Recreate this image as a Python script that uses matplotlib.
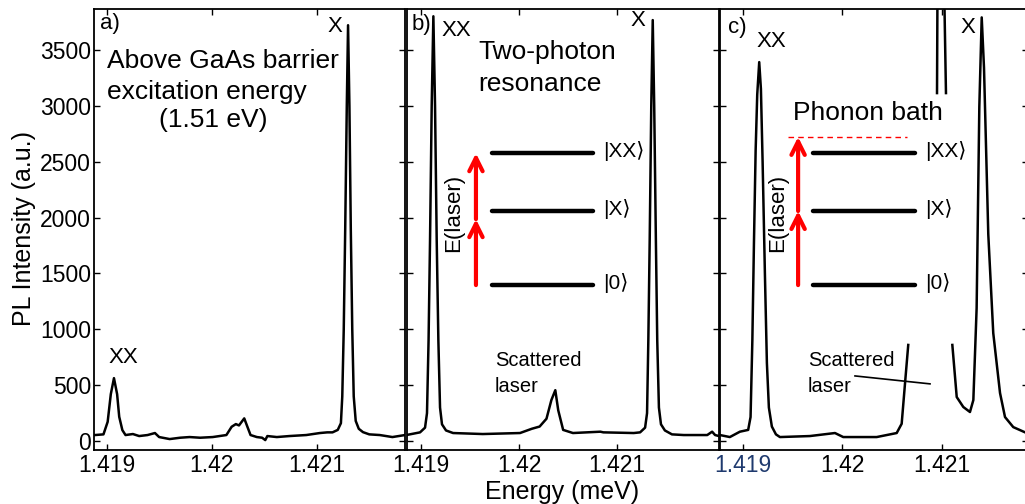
import numpy as np
import matplotlib
matplotlib.use("Agg")
import matplotlib.pyplot as plt

plt.rcParams['font.family'] = ['Liberation Sans', 'DejaVu Sans']

# PL spectra (energy in meV as labelled, intensity a.u.)
energy_a = [1.41889, 1.41897, 1.41901, 1.41904, 1.41907, 1.41910, 1.41912, 1.41915,
            1.41918, 1.41925, 1.41931, 1.41939, 1.41946, 1.41950, 1.41960, 1.41970,
            1.41979, 1.41989, 1.42001, 1.42014, 1.42019, 1.42023, 1.42026, 1.42031,
            1.42034, 1.42037, 1.42043, 1.42048, 1.42051, 1.42053, 1.42062, 1.42074,
            1.42090, 1.42103, 1.42110, 1.42115, 1.42120, 1.42123, 1.421243, 1.421257,
            1.421271, 1.421286, 1.421298, 1.421311, 1.421324, 1.421338, 1.421352, 1.421371,
            1.42140, 1.42144, 1.42150, 1.42160, 1.42172, 1.42184]
pl_a = [54, 60, 172, 420, 563, 420, 217, 98,
        54, 63, 45, 54, 72, 36, 18, 30,
        36, 30, 36, 54, 128, 152, 140, 203,
        128, 54, 36, 30, 9, 45, 36, 45,
        54, 72, 78, 78, 100, 160, 400, 1000,
        1900, 3000, 3720, 3000, 1900, 1000, 400, 180,
        110, 80, 60, 54, 36, 54]

energy_b = [1.41885, 1.418990, 1.419041, 1.419061, 1.419077, 1.419092, 1.419109, 1.419126,
            1.419143, 1.419160, 1.419177, 1.419194, 1.419214, 1.419255, 1.419327, 1.41963,
            1.42001, 1.42013, 1.42021, 1.42028, 1.42033, 1.42037, 1.42040, 1.42045,
            1.42055, 1.42083, 1.42086, 1.42117, 1.421235, 1.421286, 1.421306, 1.421319,
            1.421333, 1.421349, 1.421364, 1.421379, 1.421396, 1.421410, 1.421427, 1.421448,
            1.421488, 1.421560, 1.42168, 1.42192, 1.42197, 1.42200, 1.42204]
pl_b = [54, 78, 120, 250, 900, 1800, 3000, 3800,
        3000, 1800, 900, 300, 150, 95, 72, 63,
        72, 110, 130, 200, 367, 455, 275, 100,
        72, 84, 78, 72, 78, 120, 250, 900,
        1800, 3000, 3766, 3000, 1800, 900, 300, 150,
        95, 60, 54, 54, 84, 54, 45]

# laser line in c) runs off scale and is cut out of the panel (nan = gap)
energy_c = [1.418769, 1.418869, 1.418970, 1.419053, 1.419077, 1.419095, 1.419111, 1.419128,
            1.419144, 1.419164, 1.419181, 1.419198, 1.419221, 1.419241, 1.419261, 1.419291,
            1.419332, 1.419372, 1.419673, 1.419925, 1.420008, 1.420344, 1.420545, 1.420595,
            1.420628, 1.420661, 1.420800,
            1.420950, 1.420957, 1.421013, 1.421040, 1.421070,
            1.421104, 1.421148, 1.421214, 1.421281, 1.421315, 1.421348, 1.421375, 1.421399,
            1.421422, 1.421465, 1.421515, 1.421583, 1.421633, 1.421716, 1.421850]
pl_c = [54, 36, 84, 100, 215, 900, 1770, 2600,
        3100, 3390, 3150, 2500, 1500, 700, 300, 130,
        60, 36, 45, 72, 36, 36, 72, 155,
        510, 860, np.nan,
        3113, 4500, 4500, 3113, np.nan,
        860, 394, 305, 260, 367, 1190, 2990, 3790,
        3340, 1850, 966, 430, 215, 125, 72]

xticks = [1.419, 1.420, 1.421]
xtick_labels = ['1.419', '1.42', '1.421']
yticks = [0, 500, 1000, 1500, 2000, 2500, 3000, 3500]
ylim = (-80, 3865)

fig = plt.figure(figsize=(10.25, 5.04), dpi=100)
ax_a = fig.add_axes([94/1025, 0.1071, 311/1025, 0.875])
ax_b = fig.add_axes([407/1025, 0.1071, 312/1025, 0.875])
ax_c = fig.add_axes([720/1025, 0.1071, 0.30, 0.875])

panels = [(ax_a, energy_a, pl_a, (1.41888, 1.42184)),
          (ax_b, energy_b, pl_b, (1.418857, 1.42204)),
          (ax_c, energy_c, pl_c, (1.41877, 1.421859))]

for ax, e, p, xl in panels:
    ax.plot(e, p, color='black', lw=1.8, solid_joinstyle='round')
    ax.set_xlim(*xl)
    ax.set_ylim(*ylim)
    ax.set_xticks(xticks)
    ax.set_xticklabels(xtick_labels)
    ax.set_yticks(yticks)
    ax.tick_params(direction='in', top=True, right=True, length=4, width=1,
                   labelsize=16.5, pad=3)
    for s in ax.spines.values():
        s.set_linewidth(1.3)

ax_a.tick_params(axis='y', pad=2)
ax_b.tick_params(axis='y', labelleft=False)
ax_c.tick_params(axis='y', labelleft=False)
ax_c.get_xticklabels()[0].set_color('#1f3a6e')

fs_big = 19
fs_lab = 16

# a)
ax_a.text(0.019, 0.968, 'a)', transform=ax_a.transAxes, fontsize=16, va='center')
ax_a.text(0.775, 0.961, 'X', transform=ax_a.transAxes, fontsize=fs_lab, ha='center', va='center')
ax_a.text(0.093, 0.209, 'XX', transform=ax_a.transAxes, fontsize=fs_lab, ha='center', va='center')
ax_a.text(0.042, 0.882, 'Above GaAs barrier', transform=ax_a.transAxes, fontsize=fs_big, va='center')
ax_a.text(0.042, 0.812, 'excitation energy', transform=ax_a.transAxes, fontsize=fs_big, va='center')
ax_a.text(0.209, 0.748, '(1.51 eV)', transform=ax_a.transAxes, fontsize=fs_big, va='center')


def level_diagram(ax, x0, x1, xlab, xarr, y_tip, x_elab):
    # energy levels |0>, |X>, |XX> with two laser photons
    levels = [0.374, 0.542, 0.673]
    names = ['|0\u27e9', '|X\u27e9', '|XX\u27e9']
    for y, n in zip(levels, names):
        ax.plot([x0, x1], [y, y], color='black', lw=3.2, transform=ax.transAxes,
                solid_capstyle='round')
        ax.text(xlab, y + 0.005, n, transform=ax.transAxes, fontsize=15, va='center')
    y_start, y_mid = levels[0], (levels[0] + y_tip) / 2
    for ya, yb in [(y_start, y_mid), (y_mid, y_tip)]:
        ax.annotate('', xy=(xarr, yb), xytext=(xarr, ya), xycoords='axes fraction',
                    arrowprops=dict(arrowstyle='->', color='red', lw=3,
                                    mutation_scale=24, shrinkA=0, shrinkB=0))
    ax.text(x_elab, 0.537, 'E(laser)', transform=ax.transAxes, fontsize=fs_lab,
            rotation=90, ha='center', va='center')


# b)
ax_b.text(0.016, 0.966, 'b)', transform=ax_b.transAxes, fontsize=16, va='center')
ax_b.text(0.112, 0.952, 'XX', transform=ax_b.transAxes, fontsize=fs_lab, va='center')
ax_b.text(0.740, 0.975, 'X', transform=ax_b.transAxes, fontsize=fs_lab, ha='center', va='center')
ax_b.text(0.228, 0.902, 'Two-photon', transform=ax_b.transAxes, fontsize=fs_big, va='center')
ax_b.text(0.228, 0.830, 'resonance', transform=ax_b.transAxes, fontsize=fs_big, va='center')
ax_b.text(0.282, 0.202, 'Scattered', transform=ax_b.transAxes, fontsize=14.5, va='center')
ax_b.text(0.282, 0.143, 'laser', transform=ax_b.transAxes, fontsize=14.5, va='center')
level_diagram(ax_b, 0.272, 0.596, 0.628, 0.221, 0.673, 0.151)

# c)
ax_c.text(0.026, 0.959, 'c)', transform=ax_c.transAxes, fontsize=16, va='center')
ax_c.text(0.120, 0.927, 'XX', transform=ax_c.transAxes, fontsize=fs_lab, va='center')
ax_c.text(0.807, 0.959, 'X', transform=ax_c.transAxes, fontsize=fs_lab, ha='center', va='center')
ax_c.text(0.237, 0.764, 'Phonon bath', transform=ax_c.transAxes, fontsize=fs_big, va='center')
ax_c.plot([0.221, 0.608], [0.710, 0.710], color='red', lw=1, ls=(0, (4, 3)),
          transform=ax_c.transAxes)
ax_c.text(0.286, 0.202, 'Scattered', transform=ax_c.transAxes, fontsize=14.5, va='center')
ax_c.text(0.286, 0.145, 'laser', transform=ax_c.transAxes, fontsize=14.5, va='center')
ax_c.plot([0.439, 0.683], [0.168, 0.150], color='black', lw=1.2, transform=ax_c.transAxes)
level_diagram(ax_c, 0.302, 0.634, 0.667, 0.254, 0.710, 0.189)

fig.text(0.548, 0.048, 'Energy (meV)', fontsize=18, ha='center', va='top')
fig.text(0.0234, 0.546, 'PL Intensity (a.u.)', fontsize=18, rotation=90,
         ha='center', va='center')

fig.savefig('out.png', dpi=100)
